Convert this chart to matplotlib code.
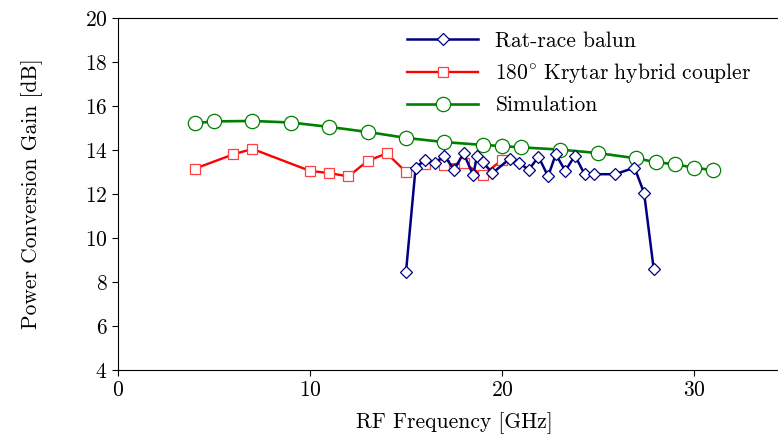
import matplotlib
matplotlib.use('Agg')
import matplotlib.pyplot as plt

plt.rcParams['font.family'] = 'serif'
plt.rcParams['font.serif'] = ['cmr10']
plt.rcParams['mathtext.fontset'] = 'cm'
plt.rcParams['axes.formatter.use_mathtext'] = True

# Rat-race balun (measured)
rr_freq = [15.0, 15.5, 16.0, 16.5, 17.0, 17.5, 18.0, 18.5, 18.7, 19.0, 19.5,
           20.4, 20.9, 21.4, 21.9, 22.4, 22.8, 23.3, 23.8, 24.3, 24.8, 25.9,
           26.9, 27.4, 27.9]
rr_gain = [8.45, 13.2, 13.55, 13.4, 13.75, 13.1, 13.85, 12.85, 13.75, 13.45, 12.95,
           13.6, 13.4, 13.1, 13.7, 12.8, 13.8, 13.05, 13.75, 12.9, 12.9, 12.9,
           13.2, 12.05, 8.6]

# 180 deg Krytar hybrid coupler (measured)
kr_freq = [4, 6, 7, 10, 11, 12, 13, 14, 15, 16, 17, 18, 19, 20]
kr_gain = [13.15, 13.8, 14.05, 13.05, 12.95, 12.8, 13.5, 13.85, 13.0, 13.35,
           13.3, 13.4, 12.85, 13.55]

# Simulation
sim_freq = [4, 5, 7, 9, 11, 13, 15, 17, 19, 20, 21, 23, 25, 27, 28, 29, 30, 31]
sim_gain = [15.22, 15.3, 15.32, 15.25, 15.05, 14.82, 14.55, 14.36, 14.23, 14.18,
            14.12, 14.02, 13.86, 13.62, 13.45, 13.35, 13.2, 13.08]

fs = 15.5

fig = plt.figure(figsize=(7.78, 4.38), dpi=100)
ax = fig.add_axes([118/778, 68/438, 672/778, 352/438])

navy = '#000080'
ax.plot(rr_freq, rr_gain, color=navy, lw=1.8, marker='D', ms=6.3,
        mfc='white', mec=navy, mew=0.9, label='Rat-race balun', zorder=3)
ax.plot(kr_freq, kr_gain, color='red', lw=1.7, marker='s', ms=7.8,
        mfc='white', mec='#ff4040', mew=0.9,
        label=r'$\mathrm{180^{\circ}\ Krytar\ hybrid\ coupler}$', zorder=2)
ax.plot(sim_freq, sim_gain, color='green', lw=1.9, marker='o', ms=10.3,
        mfc='white', mec='green', mew=0.9, label='Simulation', zorder=1)

ax.set_xlim(0, 35)
ax.set_ylim(4, 20)
ax.set_xticks([0, 10, 20, 30])
ax.set_yticks(range(4, 21, 2))
ax.tick_params(direction='out', length=4, width=0.8, labelsize=fs)
ax.spines['right'].set_visible(False)
ax.set_xlabel('RF Frequency [GHz]', fontsize=fs, labelpad=9)
ax.set_ylabel('Power Conversion Gain [dB]', fontsize=fs, labelpad=30)

ax.legend(loc='upper left', bbox_to_anchor=(407/778, 1 - 31/438),
          bbox_transform=fig.transFigure, frameon=False, fontsize=fs,
          handlelength=3.3, handletextpad=0.8, labelspacing=0.49,
          borderaxespad=0, borderpad=0)

fig.savefig('out.png', dpi=100)
